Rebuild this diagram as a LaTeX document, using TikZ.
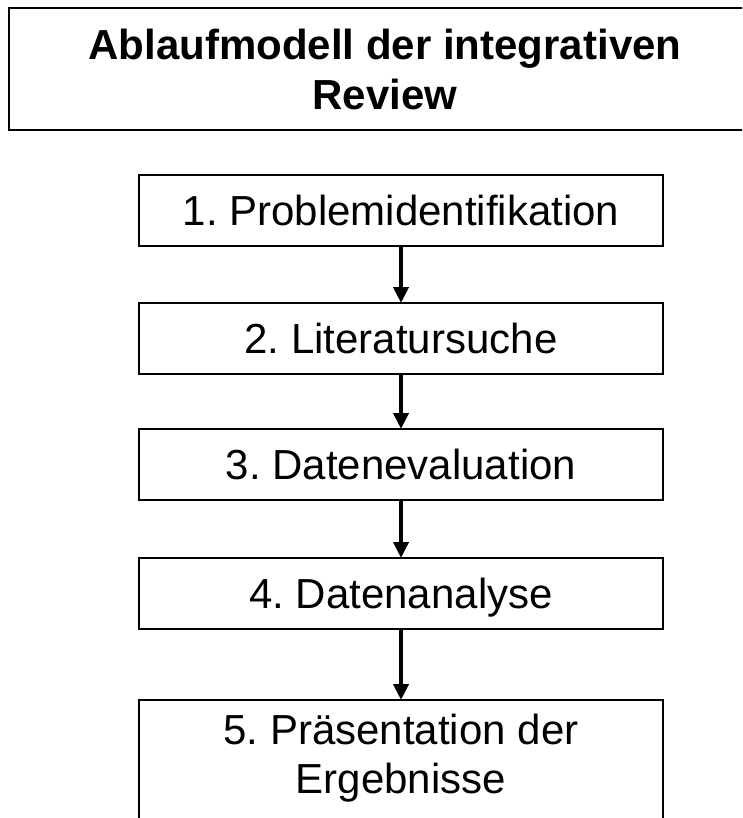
\documentclass[tikz,border=0pt]{standalone}
\usepackage{fontspec}
\setmainfont{Liberation Sans}
\usetikzlibrary{arrows.meta}
\frenchspacing

\tikzset{
  titlebox/.style={draw, line width=2pt, inner sep=0pt, align=center,
    minimum width=752pt, minimum height=122pt,
    font=\fontsize{42}{50}\selectfont\bfseries},
  stepbox/.style={draw, line width=2pt, inner sep=0pt,
    minimum width=524pt, minimum height=71pt,
    text height=30pt, text depth=0pt,
    font=\fontsize{42}{49}\selectfont},
  lastbox/.style={draw, line width=2pt, inner xsep=0pt, inner ysep=8pt,
    minimum width=524pt, align=center,
    font=\fontsize{42}{49}\selectfont},
  flow/.style={line width=4pt, -{Triangle[width=15pt,length=16pt]}, shorten >=-1pt},
}

\begin{document}
\begin{tikzpicture}[x=1pt, y=-1pt]
  \clip (0,0) rectangle (742,818);
  \fill[white] (0,0) rectangle (742,818);

  % heading
  \node[titlebox, anchor=north west] (title) at (8,7)
    {Ablaufmodell der integrativen\\Review};

  % process steps
  \node[stepbox] (s1) at (401,210.5) {1. Problemidentifikation};
  \node[stepbox] (s2) at (401,338.5) {2. Literatursuche};
  \node[stepbox] (s3) at (401,464.5) {3. Datenevaluation};
  \node[stepbox] (s4) at (401,593.5) {4. Datenanalyse};
  \node[lastbox, anchor=north] (s5) at (401,699)
    {\rule{0pt}{36pt}5. Präsentation der\\Ergebnisse\rule[-40pt]{0pt}{40pt}};

  % connectors
  \draw[flow] (s1) -- (s2);
  \draw[flow] (s2) -- (s3);
  \draw[flow] (s3) -- (s4);
  \draw[flow] (s4) -- (s5);
\end{tikzpicture}
\end{document}
